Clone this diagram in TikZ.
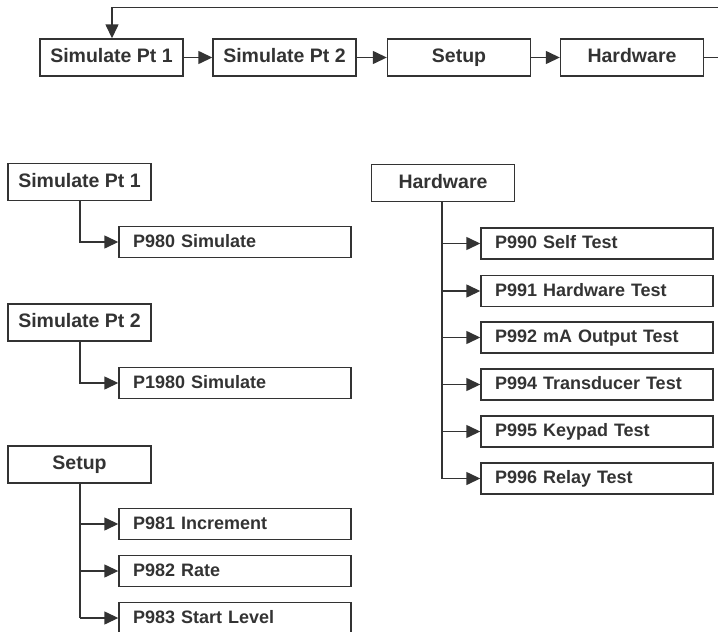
\documentclass[tikz,border=0pt]{standalone}
\usepackage{fontspec}
\setmainfont{Liberation Sans}
\usetikzlibrary{arrows.meta}
\definecolor{ink}{HTML}{333333}
\begin{document}
\begin{tikzpicture}[x=1pt,y=-1pt,
  every node/.style={text=ink, text height=14pt, text depth=3.5pt},
  mainbox/.style={font=\bfseries\fontsize{19.5}{22}\selectfont, draw=ink, line width=1.4pt, rectangle, minimum width=143pt, minimum height=37pt, inner sep=0pt},
  childbox/.style={font=\bfseries\fontsize{18}{21}\selectfont, draw=ink, line width=1.4pt, rectangle, minimum width=232pt, minimum height=31pt, inner sep=0pt, text width=204pt, align=left},
  conn/.style={draw=ink, line width=1.4pt, -{Triangle[length=14pt,width=13pt]}},
  plain/.style={draw=ink, line width=1.4pt}]
\useasboundingbox (0,0) rectangle (718,632);

% top row
\node[mainbox] (t1) at (111.5,57.5) {Simulate Pt 1};
\node[mainbox] (t2) at (284.5,57.5) {Simulate Pt 2};
\node[mainbox] (t3) at (459,57.5) {Setup};
\node[mainbox] (t4) at (632,57.5) {Hardware};
\coordinate (rA) at (718,57.5);
\coordinate (rB) at (718,7.5);
\coordinate (lB) at (112,7.5);
\draw[conn] (t1) -- (t2);
\draw[conn] (t2) -- (t3);
\draw[conn] (t3) -- (t4);
\draw[plain] (t4.east) -- (rA);
\draw[conn] (rB) -- (lB) -- (t1.north -| lB);

% Simulate Pt 1
\node[mainbox] (a) at (79.5,182) {Simulate Pt 1};
\node[childbox] (a1) at (235,242) {P980 Simulate};
\draw[conn] (a.south -| 80,0) |- (a1.west);

% Simulate Pt 2
\node[mainbox] (b) at (79.5,322.5) {Simulate Pt 2};
\node[childbox] (b1) at (235,383) {P1980 Simulate};
\draw[conn] (b.south -| 80,0) |- (b1.west);

% Setup
\node[mainbox] (c) at (79.5,464.5) {Setup};
\node[childbox] (c1) at (235,524) {P981 Increment};
\node[childbox] (c2) at (235,571) {P982 Rate};
\node[childbox] (c3) at (235,618) {P983 Start Level};
\coordinate (cj) at (80,618);
\draw[plain] (c.south -| cj) -- (cj);
\draw[conn] (c1.west -| cj) -- (c1.west);
\draw[conn] (c2.west -| cj) -- (c2.west);
\draw[conn] (cj) -- (c3.west);

% Hardware
\node[mainbox] (d) at (443,183) {Hardware};
\node[childbox] (d1) at (597,243.5) {P990 Self Test};
\node[childbox] (d2) at (597,291) {P991 Hardware Test};
\node[childbox] (d3) at (597,337.5) {P992 mA Output Test};
\node[childbox] (d4) at (597,384.5) {P994 Transducer Test};
\node[childbox] (d5) at (597,431.5) {P995 Keypad Test};
\node[childbox] (d6) at (597,478.5) {P996 Relay Test};
\coordinate (dj) at (442,478.5);
\draw[plain] (d.south -| dj) -- (dj);
\foreach \k in {d1,d2,d3,d4,d5} \draw[conn] (\k.west -| dj) -- (\k.west);
\draw[conn] (dj) -- (d6.west);
\end{tikzpicture}
\end{document}
